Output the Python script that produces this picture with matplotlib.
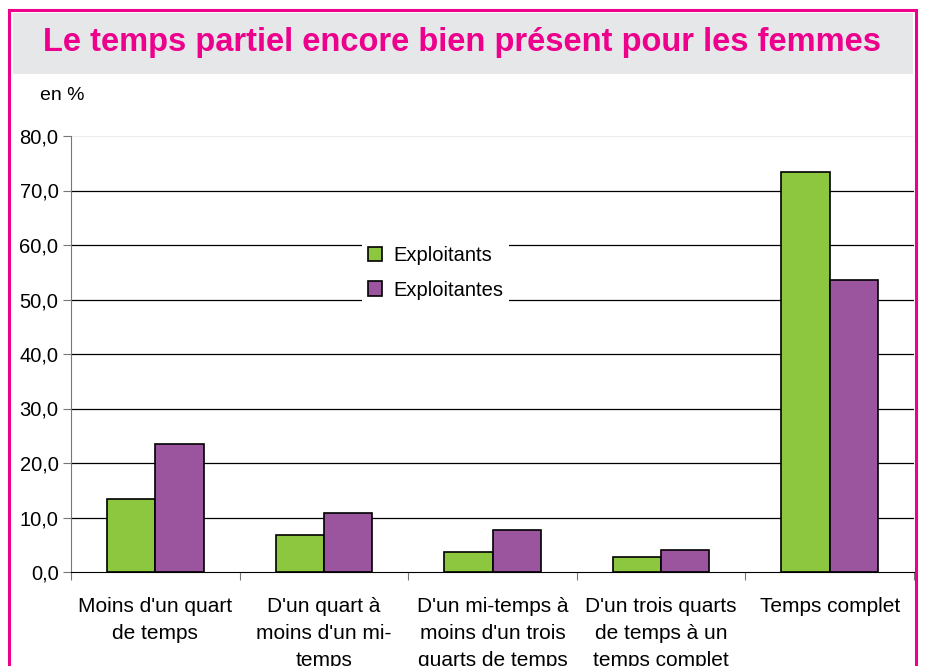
import matplotlib.pyplot as plt
from matplotlib.patches import Rectangle
from matplotlib.ticker import FixedLocator

plt.rcParams['font.family'] = ['Liberation Sans', 'DejaVu Sans']

categories = ["Moins d'un quart\nde temps",
              "D'un quart à\nmoins d'un mi-\ntemps",
              "D'un mi-temps à\nmoins d'un trois\nquarts de temps",
              "D'un trois quarts\nde temps à un\ntemps complet",
              "Temps complet"]
exploitants = [13.4, 6.8, 3.7, 2.8, 73.4]
exploitantes = [23.5, 10.8, 7.7, 4.0, 53.6]
yticks = [0, 10, 20, 30, 40, 50, 60, 70, 80]
ytick_labels = ["0,0", "10,0", "20,0", "30,0", "40,0", "50,0", "60,0", "70,0", "80,0"]

magenta = "#EC008C"
green = "#8DC63F"
purple = "#9B559E"

W, H = 926, 666
fig = plt.figure(figsize=(W / 100, H / 100), dpi=100)

# cadre et bandeau du titre
fig.patches.append(Rectangle((13 / W, 1 - 74 / H), 900 / W, 61 / H, transform=fig.transFigure,
                             facecolor="#E6E7E8", edgecolor="none", zorder=0))
fig.patches.append(Rectangle((9 / W, -0.1), 907 / W, 1.1 - 10 / H, transform=fig.transFigure,
                             facecolor="none", edgecolor=magenta, linewidth=2.2, zorder=1))
fig.text(462 / W, 1 - 43 / H, "Le temps partiel encore bien présent pour les femmes",
         ha="center", va="center", color=magenta, fontsize=23.5, fontweight="bold")
fig.text(40 / W, 1 - 95 / H, "en %", ha="left", va="center", fontsize=14)

ax = fig.add_axes([71 / W, 1 - 572 / H, 843 / W, 436 / H])
x = list(range(len(categories)))
bw = 0.287
ax.bar([i - bw / 2 for i in x], exploitants, width=bw, color=green, edgecolor="black",
       linewidth=1.2, label="Exploitants", zorder=3)
ax.bar([i + bw / 2 for i in x], exploitantes, width=bw, color=purple, edgecolor="black",
       linewidth=1.2, label="Exploitantes", zorder=3)

ax.set_xlim(-0.5, len(categories) - 0.5)
ax.set_ylim(0, 80)
ax.set_yticks(yticks)
ax.set_yticklabels(ytick_labels, fontsize=14.5)
for y in yticks[1:-1]:
    ax.axhline(y, color="black", linewidth=0.9, zorder=1)
ax.axhline(80, color="#eeeeee", linewidth=0.9, zorder=1)

ax.xaxis.set_major_locator(FixedLocator([i - 0.5 for i in range(len(categories) + 1)]))
ax.xaxis.set_major_formatter(plt.NullFormatter())
ax.xaxis.set_minor_locator(FixedLocator(x))
ax.set_xticklabels(categories, minor=True, fontsize=15, linespacing=1.55)
ax.tick_params(axis="x", which="minor", length=0, pad=18)
ax.tick_params(axis="x", which="major", length=6, color="#777777", direction="out")
ax.tick_params(axis="y", length=6, color="#777777", pad=3)

for s in ["top", "right"]:
    ax.spines[s].set_visible(False)
ax.spines["left"].set_color("#777777")
ax.spines["bottom"].set_color("black")
ax.spines["bottom"].set_zorder(4)

leg = ax.legend(loc="center left", bbox_to_anchor=((352 - 71) / 843, (572 - 273) / 436),
                frameon=True, fontsize=14.5, handlelength=0.7, handleheight=0.7,
                handletextpad=0.55, labelspacing=0.75, borderpad=0.3, fancybox=False)
leg.get_frame().set_edgecolor("none")
leg.get_frame().set_facecolor("white")
leg.get_frame().set_alpha(1)
leg.set_zorder(5)

fig.savefig("out.png", dpi=100)
